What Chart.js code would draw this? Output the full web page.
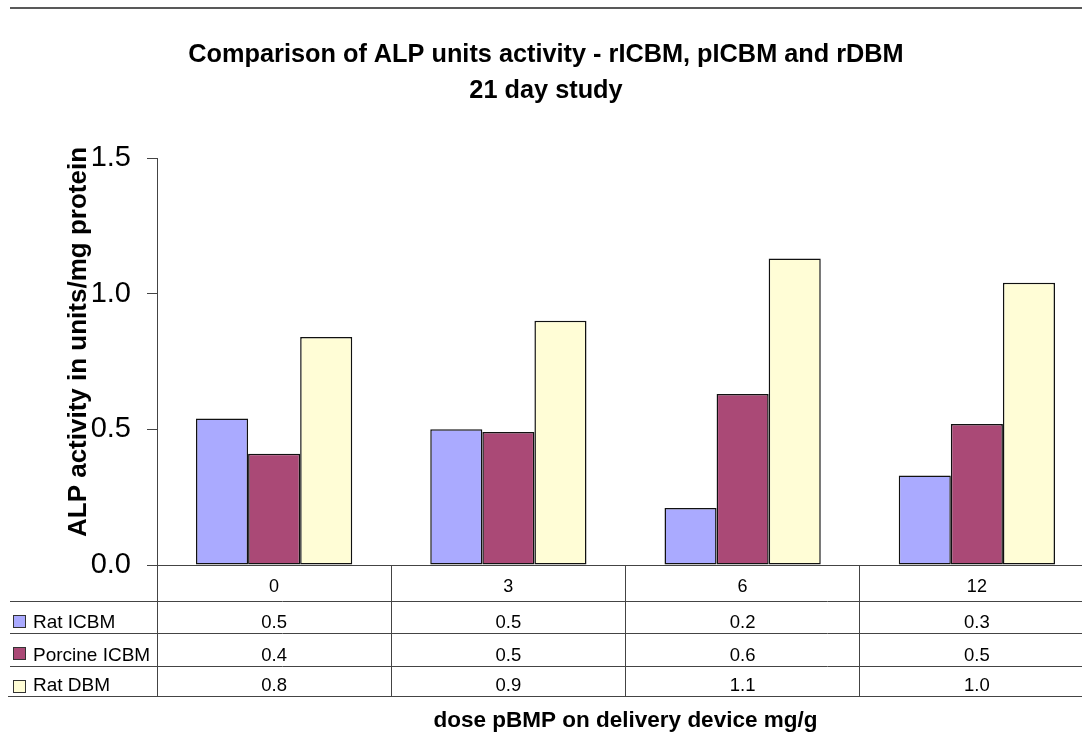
<!DOCTYPE html>
<html>
<head>
<meta charset="utf-8">
<script src="https://cdn.jsdelivr.net/npm/chart.js@4.4.0/dist/chart.umd.min.js"></script>
<style>
  html, body { margin: 0; padding: 0; background: #fff; overflow: hidden; width: 1082px; height: 744px; }
  canvas { display: block; }
</style>
</head>
<body>
<canvas id="alpChart" width="1100" height="744"></canvas>
<script>
// --- data ---
const categories = ['0', '3', '6', '12'];
const seriesNames = ['Rat ICBM', 'Porcine ICBM', 'Rat DBM'];
const ratICBM = [0.54, 0.50, 0.21, 0.33];
const porcineICBM = [0.41, 0.49, 0.63, 0.52];
const ratDBM = [0.84, 0.90, 1.13, 1.04];
const yTicks = [0, 0.5, 1.0, 1.5];

const colors = ['#AAAAFF', '#AA4976', '#FFFDD6'];
const FONT = "'Liberation Sans', Arial, sans-serif";
const LINE = '#444';

// rows of the data table under the plot
const tableRows = [
    { y: 601, yEnd: 633 },
    { y: 633, yEnd: 666 },
    { y: 666, yEnd: 696 }
];

// --- titles + data table, drawn after the chart ---
const tablePlugin = {
    id: 'tablePlugin',
    afterDraw(chart) {
        const ctx = chart.ctx;
        const x = chart.scales.x;
        const area = chart.chartArea;
        const right = chart.width;
        ctx.save();

        // frame line at the top
        ctx.strokeStyle = '#222';
        ctx.lineWidth = 1.5;
        ctx.beginPath(); ctx.moveTo(10, 8); ctx.lineTo(right, 8); ctx.stroke();

        // chart title
        ctx.fillStyle = '#000';
        ctx.textAlign = 'center';
        ctx.textBaseline = 'alphabetic';
        ctx.font = 'bold 25.3px ' + FONT;
        ctx.fillText('Comparison of ALP units activity - rICBM, pICBM and rDBM', 546, 62);
        ctx.fillText('21 day study', 546, 98);

        // y axis title
        ctx.save();
        ctx.translate(86, 342);
        ctx.rotate(-Math.PI / 2);
        ctx.font = 'bold 26px ' + FONT;
        ctx.fillText('ALP activity in units/mg protein', 0, 0);
        ctx.restore();

        // x axis title
        ctx.font = 'bold 22.5px ' + FONT;
        ctx.fillText('dose pBMP on delivery device mg/g', (area.left + area.right) / 2, 727);

        // y axis line carried down through the table
        ctx.strokeStyle = LINE;
        ctx.lineWidth = 1;
        ctx.beginPath(); ctx.moveTo(area.left + 0.5, area.bottom); ctx.lineTo(area.left + 0.5, 696); ctx.stroke();

        // horizontal table lines
        tableRows.forEach(r => {
            ctx.beginPath(); ctx.moveTo(10, r.y + 0.5); ctx.lineTo(right, r.y + 0.5); ctx.stroke();
        });
        ctx.beginPath(); ctx.moveTo(8, 696.5); ctx.lineTo(right, 696.5); ctx.stroke();

        // category header
        ctx.font = '18px ' + FONT;
        categories.forEach((c, i) => {
            ctx.fillText(c, x.getPixelForValue(i), 592);
        });

        // series rows: legend key, name, values
        const series = [ratICBM, porcineICBM, ratDBM];
        series.forEach((vals, s) => {
            const r = tableRows[s];
            const base = r.yEnd - 5;
            ctx.fillStyle = colors[s];
            ctx.fillRect(13.5, r.y + 14.5, 12, 12);
            ctx.strokeStyle = '#333';
            ctx.strokeRect(13.5, r.y + 14.5, 12, 12);
            ctx.fillStyle = '#000';
            ctx.textAlign = 'left';
            ctx.font = '19px ' + FONT;
            ctx.fillText(seriesNames[s], 33, base);
            ctx.textAlign = 'center';
            ctx.font = '18.5px ' + FONT;
            vals.forEach((v, i) => {
                ctx.fillText(v.toFixed(1), x.getPixelForValue(i), base);
            });
        });
        ctx.restore();
    }
};

const ctx = document.getElementById('alpChart').getContext('2d');
new Chart(ctx, {
    type: 'bar',
    data: {
        labels: categories,
        datasets: [
            { label: seriesNames[0], data: ratICBM, backgroundColor: colors[0] },
            { label: seriesNames[1], data: porcineICBM, backgroundColor: colors[1] },
            { label: seriesNames[2], data: ratDBM, backgroundColor: colors[2] }
        ].map(d => Object.assign(d, { borderColor: '#111', borderWidth: 1.5, borderSkipped: false,
            categoryPercentage: 0.667, barPercentage: 1.0 }))
    },
    options: {
        responsive: false,
        animation: false,
        devicePixelRatio: 1,
        layout: { padding: { top: 158, right: 6, bottom: 0, left: 0 } },
        plugins: { legend: { display: false }, title: { display: false }, tooltip: { enabled: false } },
        scales: {
            x: {
                afterFit(scale) { scale.height = 179; },
                ticks: { display: false },
                grid: { display: true, offset: true, drawOnChartArea: false, drawTicks: true,
                    tickLength: 131, color: LINE, lineWidth: 1 },
                border: { display: true, color: LINE, width: 1 }
            },
            y: {
                min: 0, max: 1.5,
                afterFit(scale) { scale.width = 157; },
                afterBuildTicks(scale) { scale.ticks = yTicks.map(v => ({ value: v })); },
                ticks: { font: { family: FONT, size: 29 }, color: '#000', padding: 16,
                    callback: v => Number(v).toFixed(1) },
                grid: { drawOnChartArea: false, drawTicks: true, tickLength: 10, color: LINE },
                border: { display: true, color: LINE, width: 1 }
            }
        }
    },
    plugins: [tablePlugin]
});
</script>
</body>
</html>
